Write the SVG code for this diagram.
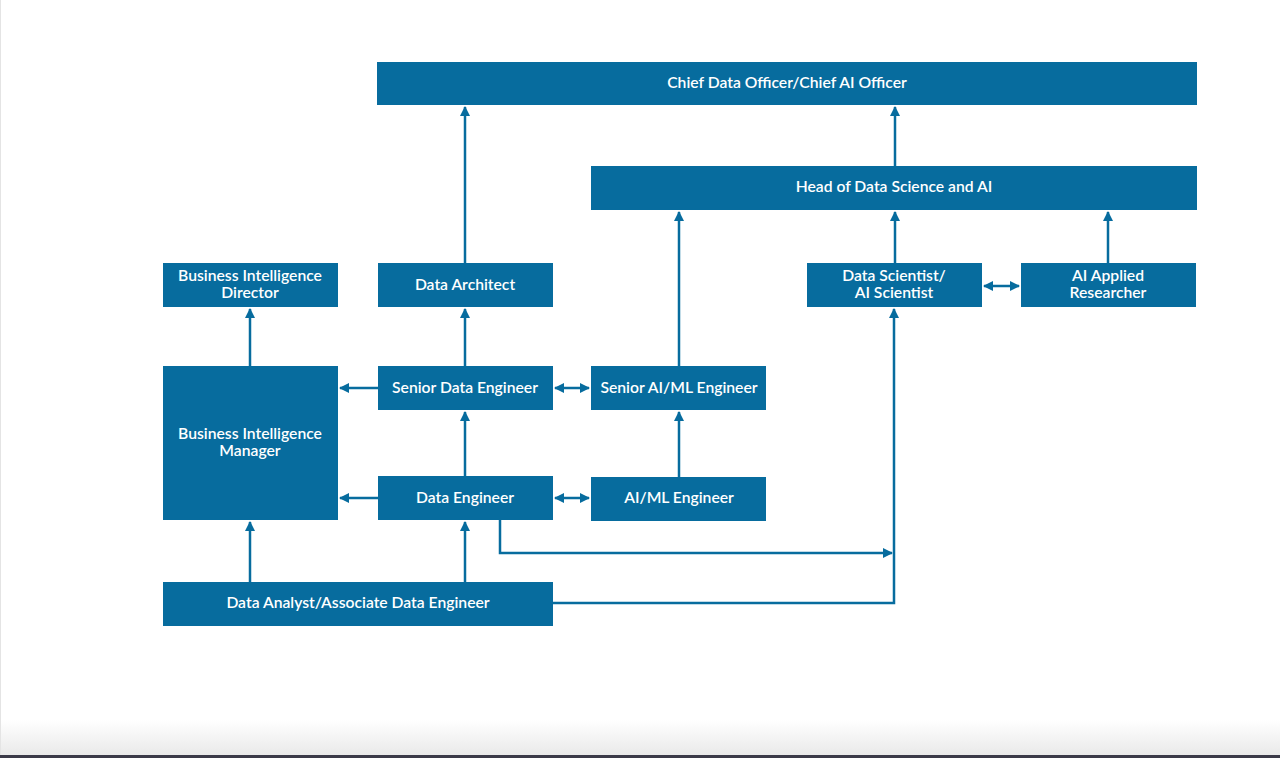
<svg xmlns="http://www.w3.org/2000/svg" width="1280" height="758" viewBox="0 0 1280 758">
<style>
.box{fill:#076c9e}
.t{font-family:Lato,"Open Sans","Liberation Sans",sans-serif;font-size:15.7px;font-weight:600;fill:#fff;text-anchor:middle}
.c{fill:none;stroke:#076c9e;stroke-width:2.5}
</style>
<defs>
<marker id="a" viewBox="0 0 10 10" refX="9" refY="5" markerWidth="4" markerHeight="4" orient="auto-start-reverse" markerUnits="strokeWidth"><path d="M0,0L10,5L0,10z" fill="#076c9e"/></marker>
<linearGradient id="bg" x1="0" y1="0" x2="0" y2="1"><stop offset="0" stop-color="#fff"/><stop offset="1" stop-color="#e9e9e9"/></linearGradient>
</defs>
<rect width="1280" height="758" fill="#fff"/>
<rect x="0" y="720" width="1280" height="35" fill="url(#bg)"/>
<rect x="0" y="755" width="1280" height="3" fill="#3b3a48"/>
<rect x="0" y="0" width="1" height="755" fill="#e4e4e4"/>
<g id="connectors">
<path class="c" d="M465,263V107" marker-end="url(#a)"/>
<path class="c" d="M895,166V107" marker-end="url(#a)"/>
<path class="c" d="M679,366V212" marker-end="url(#a)"/>
<path class="c" d="M895,263V212" marker-end="url(#a)"/>
<path class="c" d="M1108,263V212" marker-end="url(#a)"/>
<path class="c" d="M984,286H1019" marker-start="url(#a)" marker-end="url(#a)"/>
<path class="c" d="M250,366V309" marker-end="url(#a)"/>
<path class="c" d="M465,366V309" marker-end="url(#a)"/>
<path class="c" d="M378,388H340" marker-end="url(#a)"/>
<path class="c" d="M555,388H589" marker-start="url(#a)" marker-end="url(#a)"/>
<path class="c" d="M465,476V412" marker-end="url(#a)"/>
<path class="c" d="M378,498H340" marker-end="url(#a)"/>
<path class="c" d="M555,498H589" marker-start="url(#a)" marker-end="url(#a)"/>
<path class="c" d="M679,477V412" marker-end="url(#a)"/>
<path class="c" d="M250,582V522" marker-end="url(#a)"/>
<path class="c" d="M465,582V522" marker-end="url(#a)"/>
<path class="c" d="M500,520V553H892" marker-end="url(#a)"/>
<path class="c" d="M553,603H894V309" marker-end="url(#a)"/>
</g>
<g id="cdo"><rect class="box" x="377" y="62" width="820" height="43"/><text class="t" x="787" y="88">Chief Data Officer/Chief AI Officer</text></g>
<g id="head"><rect class="box" x="591" y="166" width="606" height="44"/><text class="t" x="894" y="192">Head of Data Science and AI</text></g>
<g id="bid"><rect class="box" x="163" y="263" width="175" height="44"/><text class="t" x="250" y="281">Business Intelligence</text><text class="t" x="250" y="298">Director</text></g>
<g id="arch"><rect class="box" x="378" y="263" width="175" height="44"/><text class="t" x="465" y="290">Data Architect</text></g>
<g id="ds"><rect class="box" x="807" y="263" width="175" height="44"/><text class="t" x="894" y="281">Data Scientist/</text><text class="t" x="894" y="298">AI Scientist</text></g>
<g id="air"><rect class="box" x="1021" y="263" width="175" height="44"/><text class="t" x="1108" y="281">AI Applied</text><text class="t" x="1108" y="298">Researcher</text></g>
<g id="bim"><rect class="box" x="163" y="366" width="175" height="154"/><text class="t" x="250" y="439">Business Intelligence</text><text class="t" x="250" y="456">Manager</text></g>
<g id="sde"><rect class="box" x="378" y="366" width="175" height="44"/><text class="t" x="465" y="393">Senior Data Engineer</text></g>
<g id="saiml"><rect class="box" x="591" y="366" width="175" height="44"/><text class="t" x="679" y="393">Senior AI/ML Engineer</text></g>
<g id="de"><rect class="box" x="378" y="476" width="175" height="44"/><text class="t" x="465" y="503">Data Engineer</text></g>
<g id="aiml"><rect class="box" x="591" y="477" width="175" height="44"/><text class="t" x="679" y="503">AI/ML Engineer</text></g>
<g id="da"><rect class="box" x="163" y="582" width="390" height="44"/><text class="t" x="358" y="608">Data Analyst/Associate Data Engineer</text></g>
</svg>
